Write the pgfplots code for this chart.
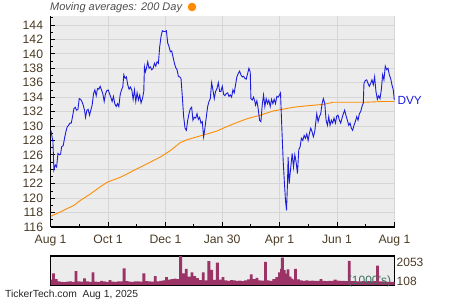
\documentclass[border=0pt]{standalone}
\usepackage{pgfplots}
\pgfplotsset{compat=1.18}
\usepackage{fontspec}
\setmainfont{Liberation Sans}
\definecolor{bgc}{HTML}{ECECEC}
\definecolor{gridc}{HTML}{D6D6D6}
\definecolor{tickc}{HTML}{4A3B26}
\definecolor{bluel}{HTML}{1C1CDC}
\definecolor{orangel}{HTML}{FF8C00}
\definecolor{volc}{HTML}{9B3366}
\definecolor{labc}{HTML}{3C6E5F}
\definecolor{titlec}{HTML}{4D4D4D}
\begin{document}
\begin{tikzpicture}[x=1pt,y=1pt]
\useasboundingbox (0,0) rectangle (450,300);
\begin{axis}[
  at={(50.6pt,73pt)}, anchor=south west,
  width=343.9pt, height=211pt, scale only axis,
  xmin=0, xmax=365, ymin=116, ymax=145.25,
  axis background/.style={fill=bgc},
  axis lines*=left, axis line style={black, line width=1.1pt},
  xtick={0,61,122,182,243,304,365},
  xticklabels={Aug 1,Oct 1,Dec 1,Jan 30,Apr 1,Jun 1,Aug 1},
  minor xtick={30.5,91.5,152,212.5,273.5,334.5},
  ytick={116,118,...,144}, minor ytick={117,119,...,145},
  grid=major, major grid style={gridc, line width=0.9pt},
  tick align=inside,
  major tick length=4.5pt, minor tick length=2.8pt,
  tick style={black, line width=0.8pt},
  every tick label/.append style={font=\fontsize{12.2}{12}\selectfont, text=tickc},
  /pgf/number format/assume math mode=true,
  yticklabel style={xshift=-4pt},
  xticklabel style={yshift=-4.5pt},
  clip mode=individual,
]
\addplot[orangel, line width=0.9pt] coordinates {
(0.3,117.5) (10.6,118.1) (24.7,119.0) (31.8,119.7) (42.4,120.6) (53.0,121.6) (60.0,122.2) (74.2,122.9) (84.7,123.6) (95.3,124.3) (105.9,125.0) (116.5,125.7) (127.1,126.6) (137.7,127.7) (144.8,128.1) (155.4,128.5) (166.0,128.9) (176.6,129.3) (185.0,129.8) (194.2,130.3) (208.3,131.0) (222.5,131.5) (236.6,132.1) (245.4,132.3) (257.8,132.6) (271.9,132.8) (289.5,133.0) (300.1,133.3) (317.8,133.3) (335.5,133.3) (353.1,133.4) (364.8,133.4)
};
\addplot[bluel, line width=0.9pt] coordinates {
(0.3,129.4) (2.5,127.8) (3.5,123.9) (4.9,124.6) (6.4,124.3) (7.8,126.2) (9.2,126.0) (10.6,126.1) (11.7,127.1) (13.4,127.3) (14.8,128.3) (16.2,129.2) (17.7,129.9) (19.1,130.1) (20.5,130.4) (21.9,130.4) (23.3,131.3) (24.7,132.4) (26.1,132.6) (27.5,132.2) (29.0,132.3) (30.4,133.8) (31.8,133.7) (33.2,133.4) (34.6,132.9) (36.0,132.2) (37.1,131.2) (38.5,132.2) (39.9,132.3) (41.3,131.5) (42.7,132.2) (44.1,132.9) (45.6,134.5) (47.0,135.0) (48.4,134.2) (49.8,135.2) (51.2,135.1) (52.6,135.5) (54.0,135.0) (55.4,134.5) (56.9,133.4) (58.3,134.5) (59.7,134.9) (61.1,135.0) (62.5,134.5) (63.9,134.0) (65.3,133.4) (66.7,134.1) (68.1,133.1) (69.6,132.7) (71.0,133.1) (72.4,132.7) (73.8,134.3) (75.2,135.0) (76.6,135.4) (77.7,137.1) (79.1,136.6) (80.5,136.8) (81.9,135.7) (83.3,135.1) (84.7,135.4) (86.2,135.0) (87.6,133.7) (89.0,135.0) (90.4,133.4) (91.8,134.6) (93.2,133.6) (94.6,134.3) (96.0,133.2) (97.5,133.8) (98.9,134.8) (99.6,138.2) (100.6,137.5) (101.7,138.0) (103.1,138.9) (104.5,138.0) (105.9,138.2) (107.3,137.8) (108.8,138.0) (110.2,138.7) (111.6,138.3) (113.0,138.9) (114.4,138.7) (115.8,141.0) (117.2,142.4) (118.6,143.2) (120.1,143.1) (121.5,143.1) (122.9,143.2) (124.3,141.5) (125.7,141.0) (127.1,140.3) (128.5,140.4) (129.9,139.6) (131.4,138.7) (132.8,138.1) (134.2,137.8) (135.6,136.9) (137.0,136.8) (138.4,136.6) (139.8,134.1) (141.2,131.3) (142.7,129.7) (144.1,129.4) (145.5,130.8) (146.9,131.7) (148.3,132.4) (149.7,132.6) (151.1,130.8) (152.5,131.2) (154.0,131.1) (155.4,131.7) (156.8,130.9) (158.2,131.2) (159.6,130.4) (161.0,130.6) (162.4,128.5) (163.8,129.7) (165.3,131.3) (166.7,132.7) (168.1,133.4) (169.5,133.8) (170.9,136.0) (172.3,135.0) (173.7,133.8) (175.1,134.8) (176.6,135.2) (178.0,136.0) (179.4,134.8) (180.8,134.8) (182.2,135.5) (183.6,134.4) (185.0,134.2) (186.4,134.5) (187.9,134.6) (189.3,134.1) (190.7,134.3) (192.1,134.0) (193.5,135.0) (194.9,134.6) (196.3,135.7) (197.7,136.8) (199.2,137.3) (200.6,137.6) (202.0,137.1) (203.4,136.8) (204.8,136.9) (206.2,136.6) (207.6,136.5) (209.0,137.2) (210.5,138.0) (211.9,137.5) (212.6,133.8) (214.0,133.6) (215.4,134.0) (216.8,133.4) (217.5,132.9) (218.9,133.5) (220.3,132.4) (221.8,130.8) (223.2,130.6) (224.6,132.9) (226.0,134.3) (227.4,132.7) (228.8,133.8) (230.2,133.1) (231.6,133.6) (233.1,132.7) (234.5,133.7) (235.9,133.1) (237.3,133.7) (238.7,133.1) (240.1,134.1) (241.5,134.0) (242.9,134.3) (244.0,134.6) (244.7,132.2) (245.8,128.5) (246.8,125.3) (248.2,122.0) (249.3,119.7) (250.4,118.3) (251.4,122.0) (252.1,125.7) (253.2,122.0) (254.2,123.4) (255.3,124.8) (256.4,126.2) (257.8,124.3) (259.2,126.0) (260.6,125.0) (262.0,123.4) (263.4,126.7) (264.8,127.1) (266.2,128.3) (267.7,128.0) (269.1,128.7) (270.5,128.3) (271.9,128.9) (273.3,128.0) (274.7,129.0) (276.1,129.7) (277.5,129.2) (278.9,128.5) (280.3,129.2) (281.1,130.1) (282.5,131.7) (283.9,130.6) (285.3,131.3) (286.7,131.7) (288.1,133.1) (289.5,133.8) (291.0,133.1) (292.4,130.8) (293.8,130.1) (295.2,131.3) (296.6,130.1) (298.0,130.8) (299.4,130.4) (300.8,131.1) (302.3,130.4) (303.7,131.4) (305.1,131.5) (306.5,130.8) (307.9,130.4) (309.3,131.1) (310.7,131.7) (312.1,132.2) (313.6,131.4) (315.0,130.8) (316.4,130.1) (317.8,130.4) (319.2,129.7) (320.6,129.4) (322.0,130.1) (323.4,130.6) (324.9,131.3) (326.3,130.8) (327.7,131.7) (329.1,132.0) (330.5,132.7) (331.9,133.2) (332.6,135.9) (334.0,136.3) (335.5,136.4) (336.9,135.9) (338.3,135.5) (339.7,135.9) (341.1,136.4) (342.5,135.7) (343.9,136.8) (345.3,134.8) (346.8,133.7) (348.2,134.2) (349.6,133.8) (351.0,135.0) (352.4,137.1) (353.8,136.4) (355.2,138.3) (356.6,137.8) (358.1,138.0) (359.5,137.1) (360.9,136.6) (362.3,135.7) (363.7,135.0) (364.8,133.6)
};
\node[anchor=west, text=bluel, font=\fontsize{11.8}{12}\selectfont, inner sep=0pt, xshift=2.8pt] at (axis cs:365,133.6) {DVY};
\end{axis}
\begin{axis}[
  at={(50.6pt,15pt)}, anchor=south west,
  width=343.9pt, height=29pt, scale only axis,
  xmin=0, xmax=365, ymin=0, ymax=2053,
  axis background/.style={fill=bgc},
  ticks=none, axis line style={black, line width=1.1pt},
]
\addplot[ybar, bar width=3, fill=volc, draw=none] coordinates {
(0,380) (3,826) (6,420) (9,250) (12,230) (15,210) (18,240) (21,260) (24,230) (27,991) (30,250) (33,240) (36,472) (39,260) (42,230) (45,897) (48,240) (51,220) (54,300) (57,260) (60,230) (63,350) (66,240) (69,230) (72,250) (75,260) (78,1180) (81,280) (84,240) (87,220) (90,250) (93,260) (96,240) (99,826) (102,280) (105,250) (108,240) (111,637) (114,260) (117,300) (120,330) (123,550) (126,380) (129,420) (132,450) (135,420) (138,2053) (141,826) (144,1133) (147,590) (150,897) (153,637) (156,480) (159,350) (162,897) (165,330) (168,1699) (171,1062) (174,360) (177,1581) (180,380) (183,550) (186,330) (189,300) (192,340) (195,320) (198,300) (201,310) (204,280) (207,330) (210,400) (213,750) (216,420) (219,500) (222,330) (225,310) (228,1640) (231,320) (234,300) (237,420) (240,560) (243,900) (245,1150) (246,1930) (248,1050) (250,800) (252,1100) (254,600) (256,450) (258,380) (260,1150) (263,400) (266,330) (269,300) (272,320) (275,300) (278,310) (281,290) (284,300) (287,420) (290,300) (293,280) (296,300) (299,290) (302,380) (305,310) (308,300) (311,290) (314,280) (317,1700) (320,280) (323,270) (326,260) (329,250) (332,270) (335,260) (338,280) (341,250) (344,270) (347,1380) (350,260) (353,250) (356,240) (359,230) (362,220) (364,230)
};
\end{axis}
\node[anchor=west, font=\fontsize{12}{12}\selectfont, text=tickc, inner sep=0pt] at (396.5,37.3) {2053};
\node[anchor=west, font=\fontsize{12}{12}\selectfont, text=tickc, inner sep=0pt] at (396.5,18.3) {108};
\node[font=\fontsize{12}{12}\selectfont, text=labc, inner sep=0pt] at (369.5,19) {(1000's)};
\node[anchor=base west, font=\fontsize{11}{11}\selectfont\itshape, text=titlec, inner sep=0pt] at (50,289) {Moving averages: 200 Day};
\fill[orangel] (192,293) circle (4.3);
\node[anchor=base west, font=\fontsize{10.3}{10}\selectfont, text=black!85, inner sep=0pt] at (5,2.2) {TickerTech.com\ \ Aug 1, 2025};
\end{tikzpicture}
\end{document}
